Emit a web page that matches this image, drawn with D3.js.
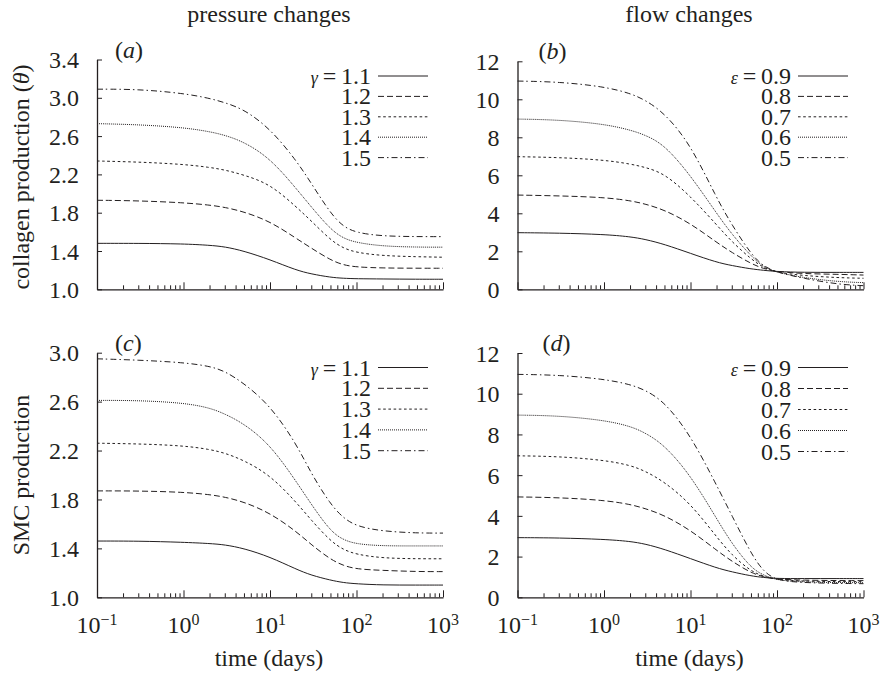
<!DOCTYPE html>
<html>
<head>
<meta charset="utf-8">
<script src="https://cdn.jsdelivr.net/npm/d3@7"></script>
<style>
  body { margin: 0; background: #fff; }
  text { font-family: "Liberation Serif", "Times New Roman", serif; fill: #231f20; }
</style>
</head>
<body>
<svg id="chart" width="882" height="674"></svg>
<script>
// time points (days)
const times = [0.1, 0.3, 1, 2, 3, 5, 10, 20, 30, 50, 70, 100, 200, 500, 1000];

const gammaLabels = ["1.1", "1.2", "1.3", "1.4", "1.5"];
const epsilonLabels = ["0.9", "0.8", "0.7", "0.6", "0.5"];

// (a) collagen production, pressure changes (gamma = 1.1 .. 1.5)
const collagenPressure = [
  [1.48, 1.48, 1.475, 1.46, 1.445, 1.40, 1.31, 1.20, 1.16, 1.125, 1.115, 1.11, 1.108, 1.105, 1.105],
  [1.93, 1.925, 1.905, 1.88, 1.857, 1.81, 1.71, 1.533, 1.43, 1.306, 1.254, 1.232, 1.222, 1.22, 1.22],
  [2.34, 2.33, 2.306, 2.274, 2.247, 2.194, 2.10, 1.863, 1.714, 1.515, 1.43, 1.383, 1.35, 1.34, 1.335],
  [2.73, 2.72, 2.69, 2.647, 2.61, 2.54, 2.37, 2.055, 1.86, 1.627, 1.533, 1.487, 1.45, 1.44, 1.44],
  [3.09, 3.09, 3.047, 2.995, 2.95, 2.88, 2.68, 2.35, 2.107, 1.794, 1.655, 1.59, 1.555, 1.55, 1.55]
];

// (b) collagen production, flow changes (epsilon = 0.9 .. 0.5)
const collagenFlow = [
  [2.98, 2.96, 2.89, 2.77, 2.63, 2.37, 1.89, 1.42, 1.25, 1.07, 1.00, 0.93, 0.89, 0.89, 0.89],
  [4.96, 4.92, 4.84, 4.67, 4.49, 4.18, 3.47, 2.47, 1.94, 1.35, 1.08, 0.93, 0.82, 0.79, 0.75],
  [6.98, 6.94, 6.81, 6.60, 6.42, 6.10, 4.90, 3.40, 2.50, 1.60, 1.12, 0.89, 0.72, 0.61, 0.58],
  [8.96, 8.92, 8.70, 8.39, 8.12, 7.61, 6.00, 4.00, 2.90, 1.75, 1.15, 0.89, 0.61, 0.40, 0.35],
  [10.96, 10.92, 10.67, 10.32, 9.96, 9.28, 7.64, 4.80, 3.40, 1.85, 1.20, 0.89, 0.58, 0.26, 0.19]
];

// (c) SMC production, pressure changes
const smcPressure = [
  [1.46, 1.46, 1.45, 1.44, 1.43, 1.40, 1.33, 1.23, 1.18, 1.14, 1.12, 1.11, 1.10, 1.10, 1.10],
  [1.87, 1.87, 1.86, 1.84, 1.82, 1.78, 1.69, 1.54, 1.43, 1.31, 1.26, 1.23, 1.22, 1.21, 1.21],
  [2.26, 2.255, 2.24, 2.21, 2.18, 2.12, 2.00, 1.78, 1.63, 1.46, 1.39, 1.35, 1.32, 1.315, 1.315],
  [2.61, 2.61, 2.59, 2.55, 2.50, 2.42, 2.25, 1.95, 1.76, 1.54, 1.47, 1.435, 1.42, 1.42, 1.42],
  [2.95, 2.94, 2.92, 2.89, 2.85, 2.75, 2.57, 2.26, 2.01, 1.76, 1.65, 1.58, 1.54, 1.525, 1.525]
];

// (d) SMC production, flow changes
const smcFlow = [
  [2.93, 2.92, 2.85, 2.75, 2.62, 2.36, 1.90, 1.44, 1.25, 1.05, 0.97, 0.92, 0.92, 0.92, 0.92],
  [4.93, 4.90, 4.77, 4.57, 4.36, 4.03, 3.30, 2.31, 1.77, 1.20, 1.00, 0.89, 0.84, 0.82, 0.82],
  [6.95, 6.92, 6.74, 6.49, 6.20, 5.67, 4.61, 2.97, 2.07, 1.28, 1.02, 0.87, 0.79, 0.77, 0.77],
  [8.95, 8.92, 8.70, 8.41, 8.08, 7.48, 6.00, 3.87, 2.64, 1.44, 1.08, 0.84, 0.75, 0.72, 0.72],
  [10.95, 10.92, 10.72, 10.46, 10.18, 9.61, 7.97, 5.51, 4.03, 2.15, 1.25, 0.82, 0.72, 0.68, 0.67]
];

const collagenTicks = [1.0, 1.4, 1.8, 2.2, 2.6, 3.0, 3.4];
const smcTicks = [1.0, 1.4, 1.8, 2.2, 2.6, 3.0];
const flowTicks = [0, 2, 4, 6, 8, 10, 12];
const decadeTicks = [0.1, 1, 10, 100, 1000];
const decadeExponents = ["\u22121", "0", "1", "2", "3"];

// line styles for the five series: solid, dashed, short dashed, dotted, dash-dot
const dashes = [null, "6,3", "2.6,2.6", "1,1", "6,3,1.5,3"];

const svg = d3.select("#chart");
const ink = "#231f20";
const fontSize = 24;

const panels = [
  { tag: "a", tagDx: 18, x0: 97, x1: 443, yTop: 59.5, yBot: 289.3, domain: [1, 3.4], ticks: collagenTicks, fmt: d3.format(".1f"),
    data: collagenPressure, sym: "\u03b3", labels: gammaLabels, legX: 371, legY: 76, legStep: 20.4, xLabels: false },
  { tag: "b", tagDx: 21, x0: 517.5, x1: 863.5, yTop: 61.3, yBot: 289.3, domain: [0, 12], ticks: flowTicks, fmt: d3.format("d"),
    data: collagenFlow, sym: "\u03b5", labels: epsilonLabels, legX: 791, legY: 76, legStep: 20.4, xLabels: false },
  { tag: "c", tagDx: 18, x0: 97, x1: 443, yTop: 352.7, yBot: 597.3, domain: [1, 3.0], ticks: smcTicks, fmt: d3.format(".1f"),
    data: smcPressure, sym: "\u03b3", labels: gammaLabels, legX: 371, legY: 367.5, legStep: 20.8, xLabels: true },
  { tag: "d", tagDx: 25, x0: 517.5, x1: 863.5, yTop: 353, yBot: 597.3, domain: [0, 12], ticks: flowTicks, fmt: d3.format("d"),
    data: smcFlow, sym: "\u03b5", labels: epsilonLabels, legX: 791, legY: 367.5, legStep: 21, xLabels: true }
];

function drawPanel(p) {
  const x = d3.scaleLog().domain([0.1, 1000]).range([p.x0, p.x1]);
  const y = d3.scaleLinear().domain(p.domain).range([p.yBot, p.yTop]);
  const g = svg.append("g");

  // x axis: minor ticks then major decade ticks, both pointing inward
  const minor = x.ticks().filter(t => !decadeTicks.includes(t));
  g.append("g")
    .attr("transform", `translate(0,${p.yBot})`)
    .call(d3.axisBottom(x).tickValues(minor).tickSize(-4).tickSizeOuter(0).tickFormat(""))
    .call(a => a.select(".domain").remove());
  g.append("g")
    .attr("transform", `translate(0,${p.yBot})`)
    .call(d3.axisBottom(x).tickValues(decadeTicks).tickSize(-7).tickSizeOuter(0).tickFormat(""))
    .call(a => a.select(".domain").attr("stroke-width", 1.3));

  // y axis
  g.append("g")
    .attr("transform", `translate(${p.x0},0)`)
    .call(d3.axisLeft(y).tickValues(p.ticks).tickSize(-5).tickSizeOuter(0).tickPadding(18).tickFormat(p.fmt))
    .call(a => a.select(".domain").attr("stroke-width", 1.3))
    .call(a => a.selectAll("text").attr("font-size", fontSize).attr("fill", ink).attr("dy", "0.34em"));

  g.selectAll(".tick line").attr("stroke", ink);
  g.selectAll(".domain").attr("stroke", ink);

  // decade labels 10^n
  if (p.xLabels) {
    decadeTicks.forEach((d, i) => {
      const t = g.append("text")
        .attr("x", x(d))
        .attr("y", 633)
        .attr("text-anchor", "middle")
        .attr("font-size", fontSize);
      t.append("tspan").text("10");
      t.append("tspan").attr("dy", -8).attr("font-size", 16).text(decadeExponents[i]);
    });
    g.append("text")
      .attr("x", (p.x0 + p.x1) / 2 - 1)
      .attr("y", 666)
      .attr("text-anchor", "middle")
      .attr("font-size", fontSize)
      .text("time (days)");
  }

  // curves (smoothed through the read-off points)
  const line = d3.line()
    .x((d, i) => x(times[i]))
    .y(d => y(d))
    .curve(d3.curveBasis);

  p.data.forEach((series, i) => {
    g.append("path")
      .datum(series)
      .attr("d", line)
      .attr("fill", "none")
      .attr("stroke", ink)
      .attr("stroke-width", 1)
      .attr("stroke-dasharray", dashes[i]);
  });

  // legend
  p.labels.forEach((lab, i) => {
    const ly = p.legY + i * p.legStep;
    const t = g.append("text")
      .attr("x", p.legX)
      .attr("y", ly + 8)
      .attr("text-anchor", "end")
      .attr("font-size", fontSize);
    if (i === 0) {
      t.append("tspan").attr("font-style", "italic").attr("font-size", 18).text(p.sym);
      t.append("tspan").text("\u2009=\u2009" + lab);
    } else {
      t.text(lab);
    }
    g.append("line")
      .attr("x1", p.legX + 7)
      .attr("x2", p.legX + 57)
      .attr("y1", ly)
      .attr("y2", ly)
      .attr("stroke", ink)
      .attr("stroke-width", 1)
      .attr("stroke-dasharray", dashes[i]);
  });

  // panel tag (a)..(d)
  const tag = g.append("text")
    .attr("x", p.x0 + p.tagDx)
    .attr("y", p.yTop - 2)
    .attr("font-size", fontSize);
  tag.append("tspan").text("(");
  tag.append("tspan").attr("font-style", "italic").text(p.tag);
  tag.append("tspan").text(")");
}

panels.forEach(drawPanel);

// column titles
svg.append("text").attr("x", 269).attr("y", 22).attr("text-anchor", "middle").attr("font-size", fontSize).text("pressure changes");
svg.append("text").attr("x", 689).attr("y", 22).attr("text-anchor", "middle").attr("font-size", fontSize).text("flow changes");

// y axis titles
const t1 = svg.append("text")
  .attr("transform", "translate(29,177) rotate(-90)")
  .attr("text-anchor", "middle")
  .attr("font-size", fontSize);
t1.append("tspan").text("collagen production (");
t1.append("tspan").attr("font-style", "italic").text("\u03b8");
t1.append("tspan").text(")");

svg.append("text")
  .attr("transform", "translate(29,475) rotate(-90)")
  .attr("text-anchor", "middle")
  .attr("font-size", fontSize)
  .text("SMC production");
</script>
</body>
</html>
